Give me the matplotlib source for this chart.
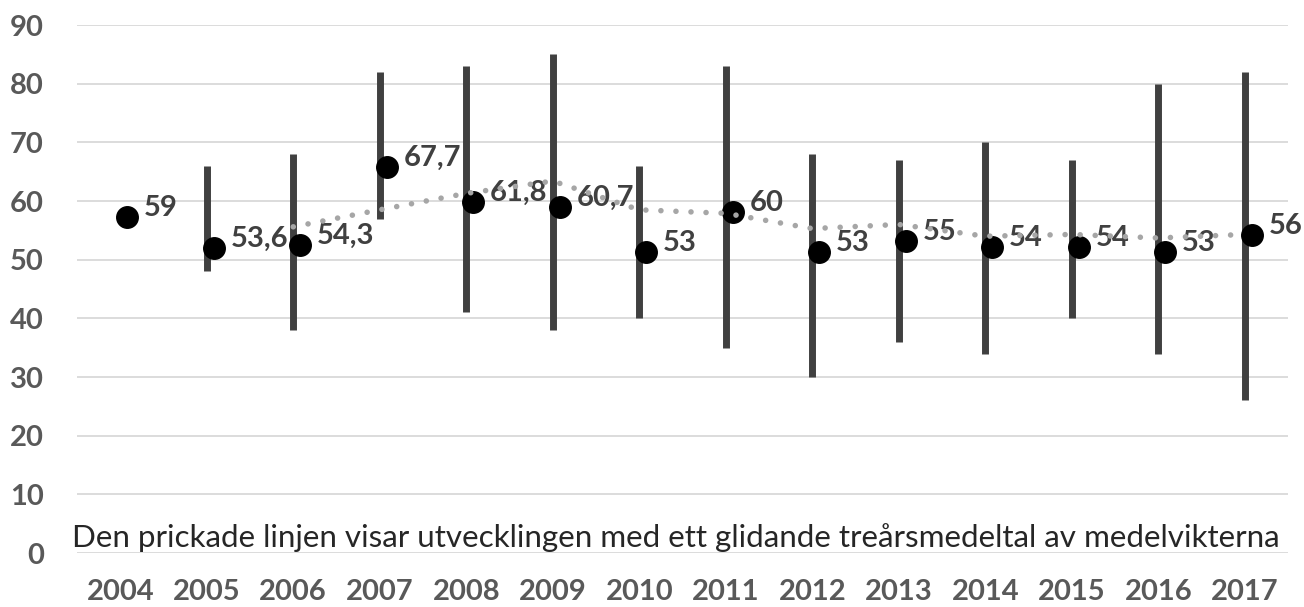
import matplotlib
matplotlib.use("Agg")
import matplotlib.pyplot as plt

# år på x-axeln
years = ['2004', '2005', '2006', '2007', '2008', '2009', '2010',
         '2011', '2012', '2013', '2014', '2015', '2016', '2017']

# punkternas läge (avläst) och deras etiketter
dot_values = [57.3, 52.0, 52.5, 65.8, 59.8, 59.0, 51.3,
              58.1, 51.3, 53.2, 52.2, 52.2, 51.3, 54.2]
dot_labels = ['59', '53,6', '54,3', '67,7', '61,8', '60,7', '53',
              '60', '53', '55', '54', '54', '53', '56']

# spridning (min/max), saknas för 2004
range_years = years[1:]
range_low = [48, 38, 57, 41, 38, 40, 35, 30, 36, 34, 40, 34, 26]
range_high = [66, 68, 82, 83, 85, 66, 83, 68, 67, 70, 67, 80, 82]

# glidande treårsmedel (2006-2017)
ma_years = years[2:]
ma_values = [55.6, 58.5, 61.3, 63.4, 58.5, 57.9, 55.3, 56.0, 54.0, 54.3, 53.7, 54.3]

note = "Den prickade linjen visar utvecklingen med ett glidande treårsmedeltal av medelvikterna"

plt.rcParams['font.family'] = ['Lato', 'DejaVu Sans']

W, H = 1304, 607
fig = plt.figure(figsize=(W / 100, H / 100), dpi=100)
ax = fig.add_axes([77 / W, (H - 553) / H, (1288 - 77) / W, (553 - 25) / H])

xpos = {y: i for i, y in enumerate(years)}

ax.set_ylim(0, 90)
ax.set_xlim(-0.5, len(years) - 0.5)
ax.set_yticks(range(0, 91, 10))
ax.yaxis.grid(True, color='#D9D9D9', linewidth=1.3)
ax.set_axisbelow(True)
for s in ax.spines.values():
    s.set_visible(False)

# min-max staplar
rx = [xpos[y] for y in range_years]
ax.vlines(rx, range_low, range_high, color='#404040', linewidth=5, zorder=2)

# medelvärden
dx = [i + 0.08 for i in range(len(years))]
ax.plot(dx, dot_values, linestyle='none', marker='o', markersize=15.5,
        color='black', zorder=3)
for x, v, lab in zip(dx, dot_values, dot_labels):
    ax.annotate(lab, (x, v), xytext=(12, 6.5), textcoords='offset points',
                ha='left', va='center', fontsize=21, fontweight='bold',
                color='#404040', zorder=4)

# glidande medel
mx = [xpos[y] for y in ma_years]
ax.plot(mx, ma_values, color='#A6A6A6', linewidth=4,
        linestyle=(0, (0.01, 2.7)), dash_capstyle='round', zorder=5)

ax.set_xticks(range(len(years)))
ax.set_xticklabels(years)
ax.tick_params(axis='both', length=0, labelsize=21, labelcolor='#595959')
ax.tick_params(axis='x', pad=19)
ax.tick_params(axis='y', pad=24)
for t in ax.get_xticklabels() + ax.get_yticklabels():
    t.set_fontweight('bold')

# förklarande text, anpassad till bredden
txt = fig.text(72 / W, (H - 547) / H, note, ha='left', va='baseline',
               fontsize=20, color='#262626')
fig.canvas.draw()
w = txt.get_window_extent().width
txt.set_fontsize(20 * (1285 - 72) / w)

plt.savefig('out.png', dpi=100)
print("Saved: out.png")
